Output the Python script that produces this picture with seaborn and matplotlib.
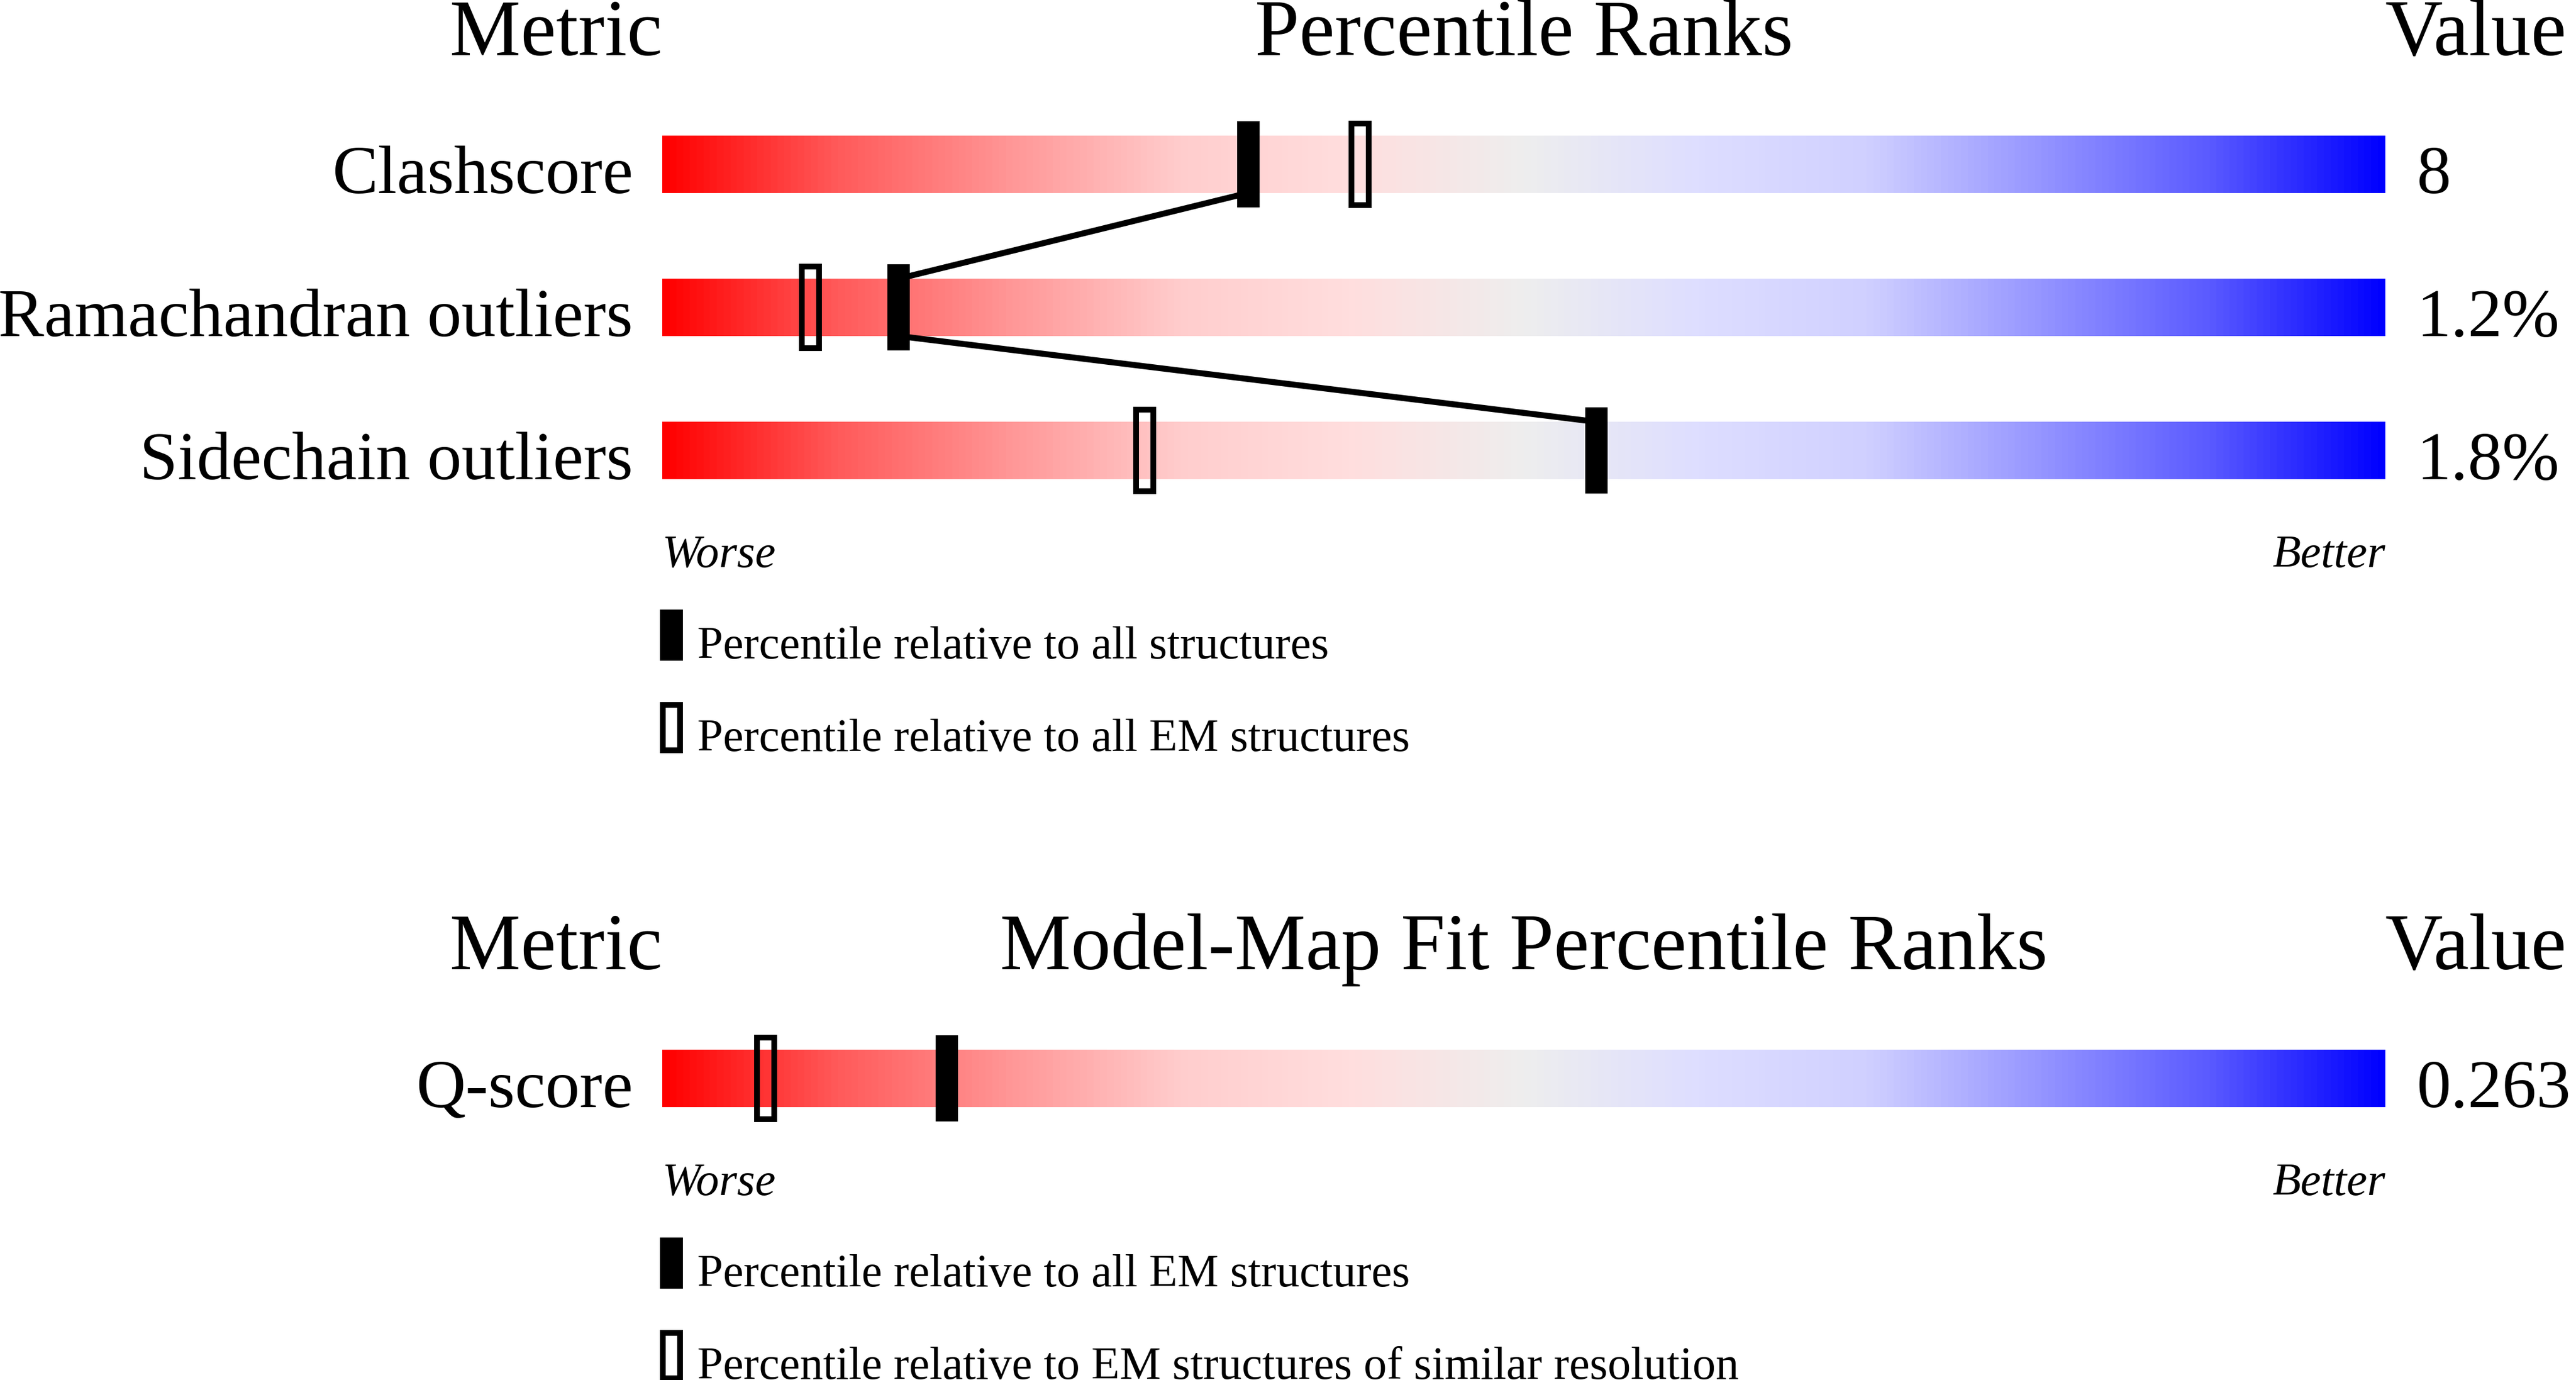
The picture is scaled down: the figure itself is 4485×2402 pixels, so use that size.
import numpy as np
import pandas as pd
import matplotlib
matplotlib.use("Agg")
import matplotlib.pyplot as plt
from matplotlib.colors import LinearSegmentedColormap
import seaborn as sns

# ---------------- data ----------------
geo_metrics = ["Clashscore", "Ramachandran outliers", "Sidechain outliers"]
geo_values = ["8", "1.2%", "1.8%"]
geo_pct_all = [34.0, 13.7, 54.2]        # filled marker
geo_pct_em = [40.5, 8.6, 28.0]          # open marker
geo_legend = ["Percentile relative to all structures",
              "Percentile relative to all EM structures"]

fit_metrics = ["Q-score"]
fit_values = ["0.263"]
fit_pct_em = [16.5]                     # filled marker
fit_pct_res = [6.0]                     # open marker
fit_legend = ["Percentile relative to all EM structures",
              "Percentile relative to EM structures of similar resolution"]

headers_geo = ["Metric", "Percentile Ranks", "Value"]
headers_fit = ["Metric", "Model-Map Fit Percentile Ranks", "Value"]
scale_ends = ["Worse", "Better"]

# ---------------- style ----------------
sns.set_theme(style="white")
plt.rcParams["font.family"] = ["Liberation Serif", "DejaVu Serif"]
plt.rcParams["text.color"] = "black"

W, H = 4485, 2402
fig = plt.figure(figsize=(W / 100, H / 100), dpi=100)
fig.patch.set_facecolor("white")

stops = [(0.0, (255, 0, 0)), (0.1, (255, 90, 90)), (0.2, (255, 150, 150)),
         (0.3, (255, 205, 205)), (0.4, (255, 222, 222)), (0.5, (238, 238, 238)),
         (0.6, (222, 222, 255)), (0.7, (208, 208, 255)), (0.8, (150, 150, 255)),
         (0.9, (90, 90, 255)), (1.0, (0, 0, 255))]
cmap = LinearSegmentedColormap.from_list(
    "slider", [(p, tuple(c / 255 for c in rgb)) for p, rgb in stops])
grad = np.linspace(0, 1, 1000).reshape(1, -1)

ROW_PX = 249.0
X0, X1 = 1153, 4153
HEAD_FS, LAB_FS, SMALL_FS = 100, 86, 58
BAR_H, MK_H, MK_W = 0.40, 0.60, 1.3
OPEN_W, OPEN_H, OPEN_LW = 1.0, 0.57, 7.2


def make_axes(center_first_row_px, nrows):
    top = center_first_row_px - ROW_PX / 2
    height = nrows * ROW_PX
    ax = fig.add_axes([X0 / W, 1 - (top + height) / H, (X1 - X0) / W, height / H])
    ax.set_xlim(0, 100)
    ax.set_ylim(nrows - 0.5, -0.5)
    ax.axis("off")
    return ax


def draw_panel(ax, metrics, values, pct_fill, pct_open, legend, headers, connect):
    n = len(metrics)
    df = pd.DataFrame({"metric": metrics, "row": np.arange(n), "value": values,
                       "fill": pct_fill, "open": pct_open})
    for r in df["row"]:
        ax.imshow(grad, cmap=cmap, aspect="auto", interpolation="bilinear",
                  extent=[0, 100, r + BAR_H / 2, r - BAR_H / 2], zorder=1)
    ax.set_xlim(0, 100)
    ax.set_ylim(n - 0.5, -0.5)

    if connect and n > 1:
        xs, ys = [], []
        for r, p in zip(df["row"], df["fill"]):
            xs += [p, p]
            ys += [r - BAR_H / 2, r + BAR_H / 2]
        path = pd.DataFrame({"x": xs[1:-1], "y": ys[1:-1]})
        sns.lineplot(data=path, x="x", y="y", sort=False, estimator=None,
                     color="black", linewidth=7.5, ax=ax, zorder=2)
        ax.set_xlabel("")
        ax.set_ylabel("")

    ax.bar(df["fill"], MK_H, width=MK_W, bottom=df["row"] - MK_H / 2,
           color="black", linewidth=0, zorder=4)
    ax.bar(df["open"], OPEN_H, width=OPEN_W, bottom=df["row"] - OPEN_H / 2,
           facecolor="none", edgecolor="black", linewidth=OPEN_LW, zorder=4)

    lab_x = (1102 - X0) / 30.0
    val_x = (4208 - X0) / 30.0
    for r, m, v in zip(df["row"], df["metric"], df["value"]):
        ax.text(lab_x, r + BAR_H / 2, m, ha="right", va="baseline", fontsize=LAB_FS)
        ax.text(val_x, r + BAR_H / 2, v, ha="left", va="baseline", fontsize=LAB_FS)

    # headers
    hy = -140 / ROW_PX - BAR_H / 2
    ax.text(0, hy, headers[0], ha="right", va="baseline", fontsize=HEAD_FS)
    ax.text(50, hy, headers[1], ha="center", va="baseline", fontsize=HEAD_FS)
    ax.text(100, hy, headers[2], ha="left", va="baseline", fontsize=HEAD_FS)

    # worse / better
    last = n - 1 + BAR_H / 2
    wy = last + 153 / ROW_PX
    ax.text(0, wy, scale_ends[0], ha="left", va="baseline", fontsize=SMALL_FS,
            style="italic")
    ax.text(100, wy, scale_ends[1], ha="right", va="baseline", fontsize=SMALL_FS,
            style="italic")

    # legend
    leg_h = 89 / ROW_PX
    for k, txt in enumerate(legend):
        cy = wy + (119 + 161 * k) / ROW_PX
        by = wy + (159 + 161 * k) / ROW_PX
        if k == 0:
            ax.bar([0.53], [leg_h], width=1.33, bottom=[cy - leg_h / 2],
                   color="black", linewidth=0, clip_on=False, zorder=4)
        else:
            ax.bar([0.53], [leg_h - 10 / ROW_PX], width=1.0,
                   bottom=[cy - (leg_h - 10 / ROW_PX) / 2], facecolor="none",
                   edgecolor="black", linewidth=OPEN_LW, clip_on=False, zorder=4)
        ax.text((1214 - X0) / 30.0, by, txt, ha="left", va="baseline",
                fontsize=SMALL_FS)


ax1 = make_axes(286, len(geo_metrics))
draw_panel(ax1, geo_metrics, geo_values, geo_pct_all, geo_pct_em, geo_legend,
           headers_geo, connect=True)

ax2 = make_axes(1877, len(fit_metrics))
draw_panel(ax2, fit_metrics, fit_values, fit_pct_em, fit_pct_res, fit_legend,
           headers_fit, connect=False)

fig.savefig("out.png", dpi=100, facecolor="white")
